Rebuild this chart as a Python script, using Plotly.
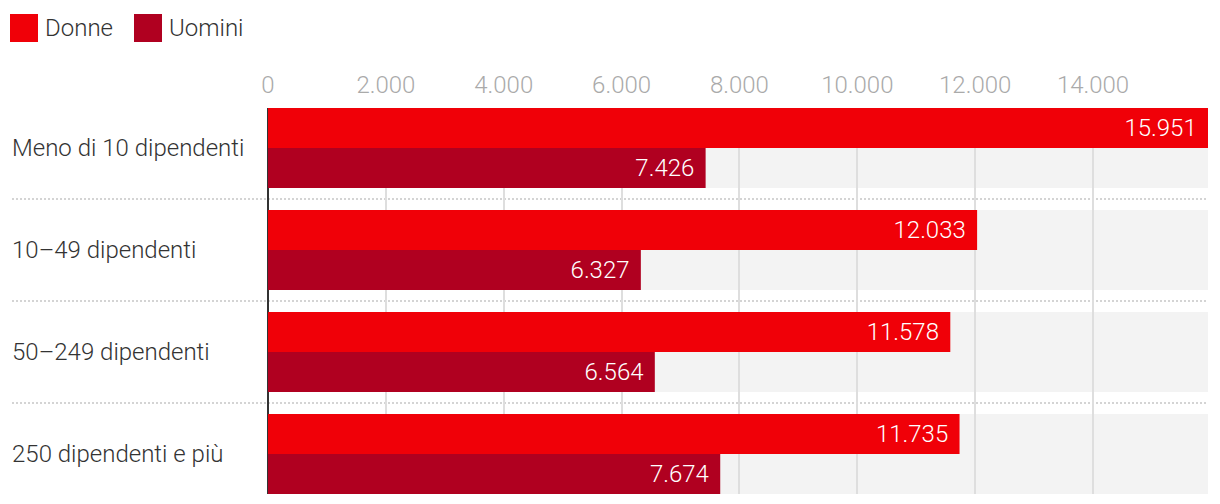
import plotly.graph_objects as go

categories = ["Meno di 10 dipendenti", "10–49 dipendenti", "50–249 dipendenti", "250 dipendenti e più"]
donne = [15951, 12033, 11578, 11735]
uomini = [7426, 6327, 6564, 7674]
series_names = ["Donne", "Uomini"]
series_colors = ["#f00008", "#b00020"]
tick_vals = [0, 2000, 4000, 6000, 8000, 10000, 12000, 14000]
tick_text = ["0", "2.000", "4.000", "6.000", "8.000", "10.000", "12.000", "14.000"]

FONT = "Roboto Light, Roboto"
FS = 24
OFF = 8  # page body margin
W, H = 1220 - OFF, 504 - OFF
ML, MR, MT, MB = 268 - OFF, 12, 108 - OFF, 10
PW = W - ML - MR
PH = H - MT - MB

half = 0.392
PAD = "\u00a0\u200a"

fig = go.Figure()
for name, vals, col in zip(series_names, [donne, uomini], series_colors):
    fig.add_trace(go.Bar(
        name=name, y=categories, x=vals, orientation="h",
        marker=dict(color=col, line=dict(width=0)),
        texttemplate="%{x:,.0f}" + PAD,
        textposition="inside", insidetextanchor="end", textangle=0,
        insidetextfont=dict(family=FONT, size=FS, color="white", weight=300),
        showlegend=False, hoverinfo="skip",
    ))

shapes = []
for i in range(len(categories)):
    shapes.append(dict(type="rect", xref="paper", yref="y", x0=0, x1=1,
                       y0=i - half, y1=i + half, fillcolor="#f3f3f3",
                       line=dict(width=0), layer="below"))

def px_x(p):
    return (p - OFF - ML) / PW
def px_y(p):
    return 1 + (MT - (p - OFF)) / PH

sx = px_x(12)
for i in range(len(categories) - 1):
    shapes.append(dict(type="line", xref="paper", yref="y", x0=sx, x1=1,
                       y0=i + 0.5, y1=i + 0.5,
                       line=dict(color="#d4d4d4", width=2, dash="2px,2px"), layer="below"))

annotations = []
lx = px_x(10)
for c in categories:
    annotations.append(dict(xref="paper", yref="y", x=lx, y=c, text=c, showarrow=False,
                            xanchor="left", yanchor="middle",
                            font=dict(family=FONT, size=FS, color="#333333", weight=300)))

leg_x = [10, 134]
for lxp, name, col in zip(leg_x, series_names, series_colors):
    shapes.append(dict(type="rect", xref="paper", yref="paper",
                       x0=px_x(lxp), x1=px_x(lxp + 28), y0=px_y(42), y1=px_y(14),
                       fillcolor=col, line=dict(width=0)))
    annotations.append(dict(xref="paper", yref="paper", x=px_x(lxp + 33), y=px_y(28),
                            text=name, showarrow=False, xanchor="left", yanchor="middle",
                            font=dict(family=FONT, size=FS, color="#333333", weight=300)))

fig.update_layout(
    width=W, height=H,
    margin=dict(l=ML, r=MR, t=MT, b=MB, pad=0),
    paper_bgcolor="white", plot_bgcolor="white",
    barmode="group", bargap=1 - 2 * half, bargroupgap=0,
    separators=",.",
    shapes=shapes, annotations=annotations,
    font=dict(family=FONT),
    xaxis=dict(side="top", range=[0, max(donne)], tickvals=tick_vals, ticktext=tick_text,
               showgrid=True, gridcolor="#dedede", gridwidth=2,
               zeroline=True, zerolinecolor="#333333", zerolinewidth=2,
               ticks="outside", ticklen=4, tickcolor="rgba(0,0,0,0)",
               tickfont=dict(family=FONT, size=FS, color="#aaaaaa", weight=300),
               showline=False, fixedrange=True),
    yaxis=dict(type="category", categoryorder="array", categoryarray=categories,
               range=[len(categories) - 1 + half, -half],
               showticklabels=False, showgrid=False, zeroline=False, ticks="", fixedrange=True),
)

fig.write_html("out.html")
